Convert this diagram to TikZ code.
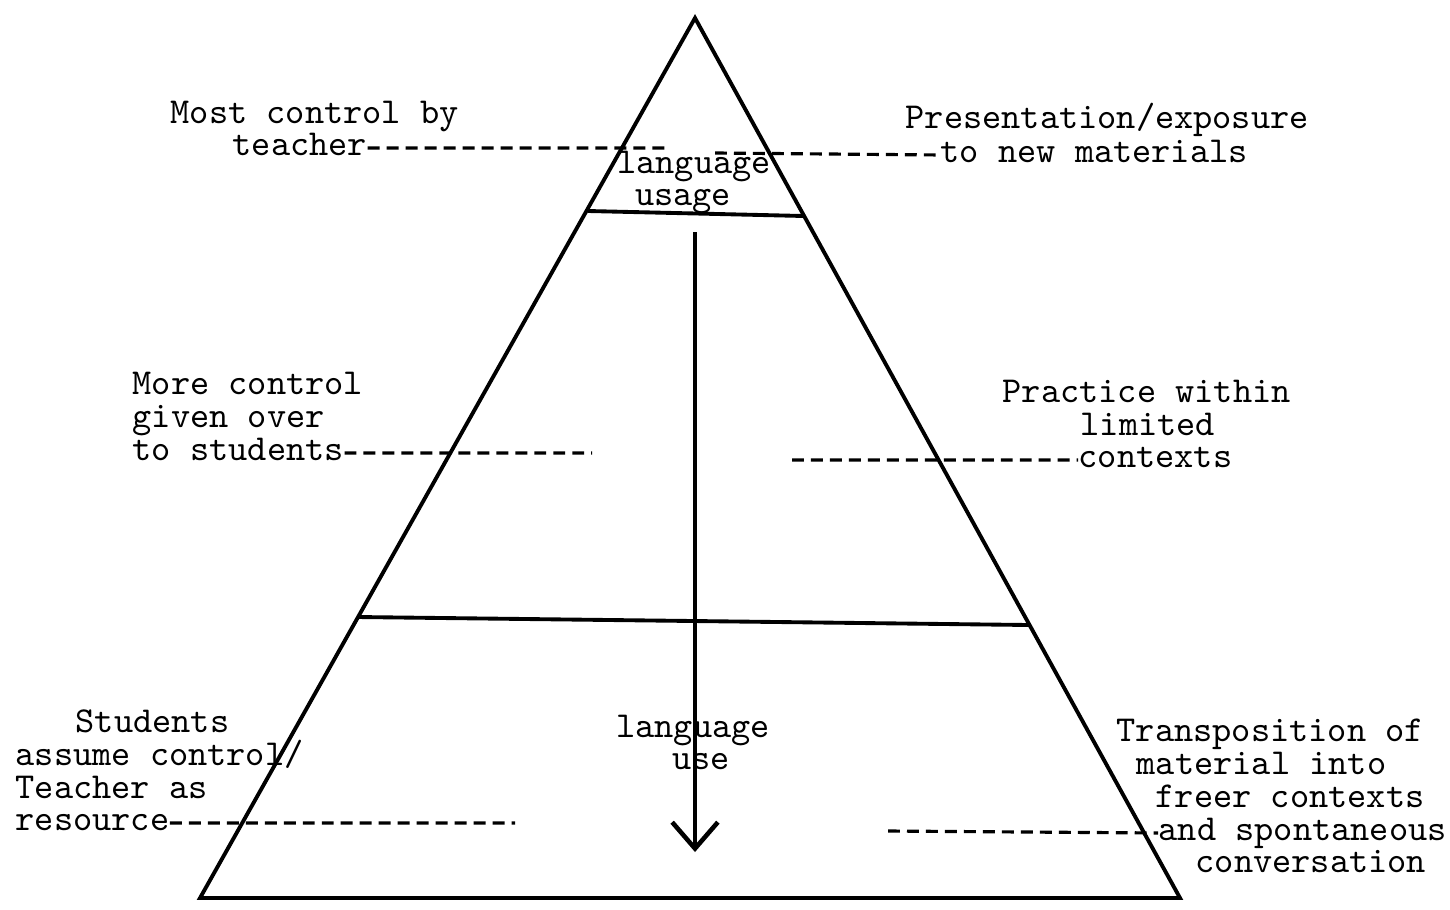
\documentclass[tikz,border=0pt]{standalone}
\usepackage{fontspec}
\usetikzlibrary{arrows.meta}

\tikzset{
	lbl/.style={font=\ttfamily\fontsize{10.4}{10.8}\selectfont, inner sep=0pt, anchor=base west},
	mid/.style={lbl, anchor=base},
	leader/.style={line width=0.9pt, dash pattern=on 3.4pt off 2pt},
	band/.style={line width=1.1pt}
}

\begin{document}
\begin{tikzpicture}[x=1cm, y=-1cm]
		\useasboundingbox (0,0) rectangle (14.5,9.09);

		% Piramide
		\coordinate (apex) at (6.95,0.18);
		\coordinate (bl) at (2.00,8.98);
		\coordinate (br) at (11.80,8.98);
		\draw[band, line join=miter] (apex) -- (bl) -- (br) -- cycle;

		% Faixas
		\coordinate (b1l) at (5.88,2.11);
		\coordinate (b1r) at (8.04,2.16);
		\coordinate (b2l) at (3.58,6.17);
		\coordinate (b2r) at (10.29,6.25);
		\draw[band] (b1l) -- (b1r);
		\draw[band] (b2l) -- (b2r);

		% Seta central
		\coordinate (aTop) at (6.95,2.32);
		\coordinate (aBot) at (6.95,8.52);
		\draw[line width=1.3pt, -{Straight Barb[length=7.5pt, width=13pt]}] (aTop) -- (aBot);

		% Rotulos dentro
		\node[mid] (usage1) at (6.94,1.73) {language};
		\node[mid] (usage2) at (6.83,2.05) {usage};
		\node[mid] (use1) at (6.93,7.37) {language};
		\node[mid] (use2) at (7.01,7.69) {use};

		% Lado esquerdo
		\node[lbl] (most) at (1.70,1.23) {Most control by};
		\node[lbl] (teacher) at (2.32,1.55) {teacher};
		\node[lbl] (more) at (1.32,3.94) {More control};
		\node[lbl] (given) at (1.32,4.27) {given over};
		\node[lbl] (tostud) at (1.32,4.60) {to students};
		\node[lbl] (stud) at (0.75,7.32) {Students};
		\node[lbl] (assume) at (0.15,7.65) {assume control/};
		\node[lbl] (teachas) at (0.15,7.98) {Teacher as};
		\node[lbl] (resource) at (0.15,8.30) {resource};

		% Lado direito
		\node[lbl] (present) at (9.05,1.28) {Presentation/exposure};
		\node[lbl] (tonew) at (9.40,1.62) {to new materials};
		\node[lbl] (practice) at (10.02,4.02) {Practice within};
		\node[lbl] (limited) at (10.80,4.35) {limited};
		\node[lbl] (contexts) at (10.78,4.67) {contexts};
		\node[lbl] (transp) at (11.16,7.41) {Transposition of};
		\node[lbl] (material) at (11.36,7.74) {material into};
		\node[lbl] (freer) at (11.55,8.07) {freer contexts};
		\node[lbl] (spont) at (11.58,8.40) {and spontaneous};
		\node[lbl] (convers) at (11.95,8.72) {conversation};

		% Pontos para os tracejados
		\coordinate (l1) at (6.70,1.48);
		\coordinate (r1) at (7.15,1.53);
		\coordinate (l2) at (5.92,4.53);
		\coordinate (r2) at (7.92,4.60);
		\coordinate (l3) at (5.15,8.23);
		\coordinate (r3) at (8.88,8.31);

		% Tracejados
		\draw[leader] ([yshift=2pt]teacher.base east) -- (l1);
		\draw[leader] (r1) -- ([yshift=2pt]tonew.base west);
		\draw[leader] ([yshift=2pt]tostud.base east) -- (l2);
		\draw[leader] (r2) -- ([yshift=2pt]contexts.base west);
		\draw[leader] ([yshift=2pt]resource.base east) -- (l3);
		\draw[leader] (r3) -- ([yshift=2pt]spont.base west);
	\end{tikzpicture}
\end{document}
